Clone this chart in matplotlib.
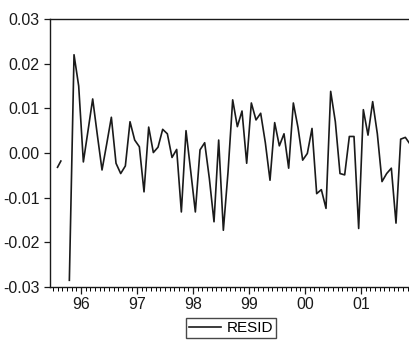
import numpy as np
import matplotlib.pyplot as plt
from matplotlib.ticker import FixedLocator, FixedFormatter

plt.rcParams['font.family'] = ['Liberation Sans', 'DejaVu Sans']

# monthly residuals, 1995:10 .. 2001:11
start_year = 1995
start_month = 10
resid = [-0.0285, 0.0220, 0.0150, -0.0020, 0.0050, 0.0121, 0.0040, -0.0038,
         0.0020, 0.0080, -0.0023, -0.0046, -0.0029, 0.0070, 0.0029, 0.0014,
         -0.0087, 0.0058, 0.0001, 0.0013, 0.0053, 0.0043, -0.0010, 0.0008,
         -0.0132, 0.0050, -0.0040, -0.0132, 0.0007, 0.0023, -0.0057, -0.0154,
         0.0029, -0.0173, -0.0043, 0.0119, 0.0059, 0.0094, -0.0023, 0.0112,
         0.0074, 0.0089, 0.0023, -0.0061, 0.0068, 0.0016, 0.0043, -0.0034,
         0.0112, 0.0057, -0.0016, -0.0001, 0.0055, -0.0091, -0.0082, -0.0124,
         0.0138, 0.0070, -0.0046, -0.0049, 0.0037, 0.0037, -0.0169, 0.0097,
         0.0040, 0.0115, 0.0043, -0.0064, -0.0046, -0.0034, -0.0157, 0.0031,
         0.0035, 0.0020]

# small isolated stroke left of the series
stray_t = [1995.58, 1995.64]
stray_y = [-0.0032, -0.0018]

year_labels = ['96', '97', '98', '99', '00', '01']
year_ticks = [1996, 1997, 1998, 1999, 2000, 2001]
y_ticks = [-0.03, -0.02, -0.01, 0.0, 0.01, 0.02, 0.03]
y_labels = ['-0.03', '-0.02', '-0.01', '0.00', '0.01', '0.02', '0.03']

t = start_year + (start_month - 1 + np.arange(len(resid)) + 0.5) / 12.0

W, H = 409, 350
fig = plt.figure(figsize=(W / 100, H / 100), dpi=100)
left, right, top, bottom = 50, 417, 19, 287
ax = fig.add_axes([left / W, 1 - bottom / H, (right - left) / W, (bottom - top) / H])

ax.plot(t, resid, color='#1a1a1a', lw=1.2, label='RESID')
ax.plot(stray_t, stray_y, color='#1a1a1a', lw=1.2)

ax.set_xlim(1995.446, 2002.0)
ax.set_ylim(-0.03, 0.03)

ax.xaxis.set_major_locator(FixedLocator(year_ticks))
ax.xaxis.set_major_formatter(FixedFormatter(year_labels))
ax.xaxis.set_minor_locator(FixedLocator(1995 + np.arange(0, 84) / 12.0))
ax.yaxis.set_major_locator(FixedLocator(y_ticks))
ax.yaxis.set_major_formatter(FixedFormatter(y_labels))

ax.tick_params(axis='x', which='major', direction='out', length=5, width=0.9,
               pad=2.5, labelsize=11.5, colors='#1a1a1a')
ax.tick_params(axis='x', which='minor', direction='out', length=3, width=0.7)
ax.tick_params(axis='y', direction='out', length=4, width=0.9, pad=3.5,
               labelsize=11.5, colors='#1a1a1a')

for s in ax.spines.values():
    s.set_linewidth(1.0)
    s.set_color('#1a1a1a')
ax.spines['right'].set_visible(False)

leg = fig.legend(loc='center', bbox_to_anchor=(231 / W, 1 - 328 / H),
                 frameon=True, fancybox=False, fontsize=11,
                 handlelength=2.1, handletextpad=0.35, borderpad=0.2,
                 borderaxespad=0)
leg.get_frame().set_edgecolor('#1a1a1a')
leg.get_frame().set_linewidth(1.0)

fig.savefig('out.png', dpi=100)
